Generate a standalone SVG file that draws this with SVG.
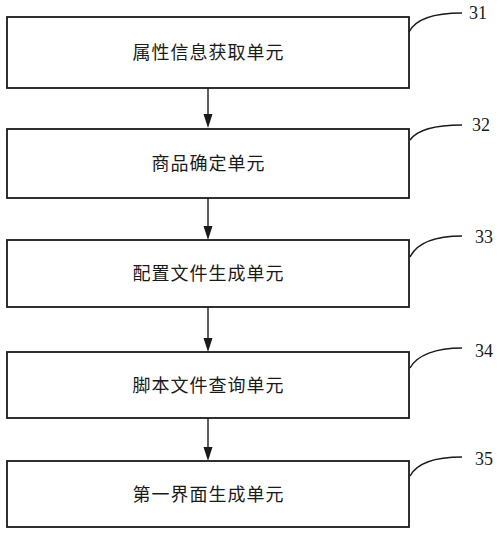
<svg xmlns="http://www.w3.org/2000/svg" width="500" height="535" viewBox="0 0 500 535">
<style>
.box{fill:none;stroke:#1a1a1a;stroke-width:1.8}
.lbl{font-family:"Noto Sans CJK SC","Noto Sans CJK JP",sans-serif;font-size:18px;fill:#1a1a1a;letter-spacing:1px}
.num{font-family:"Liberation Serif",serif;font-size:18px;fill:#1a1a1a}
.lead{fill:none;stroke:#1a1a1a;stroke-width:1.5}
.shaft{stroke:#1a1a1a;stroke-width:1.4}
.head{fill:#1a1a1a}
</style>
<rect width="500" height="535" fill="#ffffff"/>
<g id="connectors">
<line class="shaft" x1="208" y1="88" x2="208" y2="116"/>
<path class="head" d="M203.5,114 L212.5,114 L208,128 Z"/>
<line class="shaft" x1="208" y1="198" x2="208" y2="228"/>
<path class="head" d="M203.5,226 L212.5,226 L208,240 Z"/>
<line class="shaft" x1="208" y1="307" x2="208" y2="340"/>
<path class="head" d="M203.5,338 L212.5,338 L208,352 Z"/>
<line class="shaft" x1="208" y1="418" x2="208" y2="449"/>
<path class="head" d="M203.5,447 L212.5,447 L208,461 Z"/>
</g>
<g id="node31">
<rect class="box" x="7" y="17" width="402" height="71"/>
<text class="lbl" x="208.5" y="58.7" text-anchor="middle">属性信息获取单元</text>
<path class="lead" d="M409,32 C416,18 436,13 462,13"/>
<text class="num" x="469" y="19">31</text>
</g>
<g id="node32">
<rect class="box" x="7" y="129" width="402" height="69"/>
<text class="lbl" x="208.5" y="170" text-anchor="middle">商品确定单元</text>
<path class="lead" d="M410,140 C417,130 436,125 462,125"/>
<text class="num" x="472" y="131">32</text>
</g>
<g id="node33">
<rect class="box" x="7" y="240" width="402" height="67"/>
<text class="lbl" x="208.5" y="280" text-anchor="middle">配置文件生成单元</text>
<path class="lead" d="M410,257 C417,243 436,236 462,236"/>
<text class="num" x="475" y="243">33</text>
</g>
<g id="node34">
<rect class="box" x="7" y="352" width="402" height="66"/>
<text class="lbl" x="208.5" y="391.5" text-anchor="middle">脚本文件查询单元</text>
<path class="lead" d="M410,368 C417,355 436,348 462,348"/>
<text class="num" x="475" y="357">34</text>
</g>
<g id="node35">
<rect class="box" x="7" y="461" width="402" height="66"/>
<text class="lbl" x="208.5" y="500.5" text-anchor="middle">第一界面生成单元</text>
<path class="lead" d="M410,476 C417,463 436,457 462,457"/>
<text class="num" x="475" y="465">35</text>
</g>
</svg>
